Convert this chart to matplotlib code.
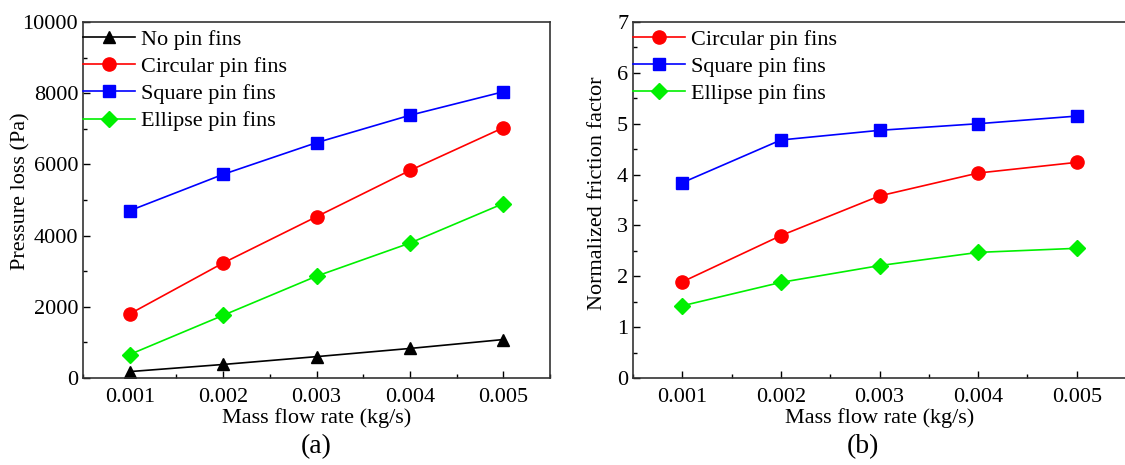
import matplotlib
matplotlib.use("Agg")
import matplotlib.pyplot as plt
from matplotlib.ticker import MultipleLocator

plt.rcParams['font.family'] = ['Liberation Serif', 'DejaVu Serif']

mass_flow = [0.001, 0.002, 0.003, 0.004, 0.005]
xtick_labels = ['0.001', '0.002', '0.003', '0.004', '0.005']

# (a) pressure loss (Pa)
dp_none = [180, 380, 600, 830, 1080]
dp_circular = [1800, 3230, 4530, 5830, 7030]
dp_square = [4700, 5720, 6610, 7380, 8040]
dp_ellipse = [660, 1760, 2860, 3790, 4900]

# (b) normalized friction factor
f_circular = [1.89, 2.80, 3.58, 4.03, 4.24]
f_square = [3.84, 4.68, 4.87, 5.00, 5.15]
f_ellipse = [1.42, 1.88, 2.21, 2.47, 2.55]

W, H = 1125, 465
fig = plt.figure(figsize=(W / 100, H / 100), dpi=100)

ax1 = fig.add_axes([83 / W, 1 - 378 / H, (550 - 83) / W, (378 - 22) / H])
ax2 = fig.add_axes([633 / W, 1 - 378 / H, (1126 - 633) / W, (378 - 22) / H])

FS = 16
GREEN = '#00f000'


def style_axes(ax):
    ax.set_xlim(0.0005, 0.0055)
    ax.set_xticks(mass_flow)
    ax.set_xticklabels(xtick_labels)
    ax.xaxis.set_minor_locator(MultipleLocator(0.0005))
    ax.tick_params(which='both', direction='in', labelsize=FS, width=1)
    ax.tick_params(which='major', length=5)
    ax.tick_params(which='minor', length=3)
    ax.tick_params(axis='x', pad=7)
    ax.set_xlabel('Mass flow rate (kg/s)', fontsize=FS, labelpad=1)
    for s in ax.spines.values():
        s.set_linewidth(1.2)
        s.set_color('#333333')


def add_legend(ax):
    ax.legend(loc='upper left', frameon=False, fontsize=FS, handlelength=2.35,
              handletextpad=0.25, labelspacing=0.3, borderaxespad=0.0,
              borderpad=0.0, bbox_to_anchor=(0.0, 0.98))


# panel (a)
ax1.plot(mass_flow, dp_none, color='black', marker='^', markersize=9, lw=1.2, label='No pin fins')
ax1.plot(mass_flow, dp_circular, color='red', marker='o', markersize=9.5, lw=1.2, label='Circular pin fins')
ax1.plot(mass_flow, dp_square, color='blue', marker='s', markersize=8, lw=1.2, label='Square pin fins')
ax1.plot(mass_flow, dp_ellipse, color=GREEN, marker='D', markersize=8, lw=1.2, label='Ellipse pin fins')
style_axes(ax1)
ax1.set_ylim(0, 10000)
ax1.yaxis.set_major_locator(MultipleLocator(2000))
ax1.yaxis.set_minor_locator(MultipleLocator(1000))
ax1.set_ylabel('Pressure loss (Pa)', fontsize=FS)
ax1.yaxis.set_label_coords(-0.113, 0.525)
add_legend(ax1)
fig.text(316 / W, 1 - 447 / H, '(a)', ha='center', va='center', fontsize=20)

# panel (b)
ax2.plot(mass_flow, f_circular, color='red', marker='o', markersize=9.5, lw=1.2, label='Circular pin fins')
ax2.plot(mass_flow, f_square, color='blue', marker='s', markersize=8, lw=1.2, label='Square pin fins')
ax2.plot(mass_flow, f_ellipse, color=GREEN, marker='D', markersize=8, lw=1.2, label='Ellipse pin fins')
style_axes(ax2)
ax2.set_ylim(0, 7)
ax2.yaxis.set_major_locator(MultipleLocator(1))
ax2.yaxis.set_minor_locator(MultipleLocator(0.5))
ax2.set_ylabel('Normalized friction factor', fontsize=FS)
ax2.yaxis.set_label_coords(-0.053, 0.52)
add_legend(ax2)
fig.text(863 / W, 1 - 447 / H, '(b)', ha='center', va='center', fontsize=20)

fig.savefig('out.png', dpi=100)
